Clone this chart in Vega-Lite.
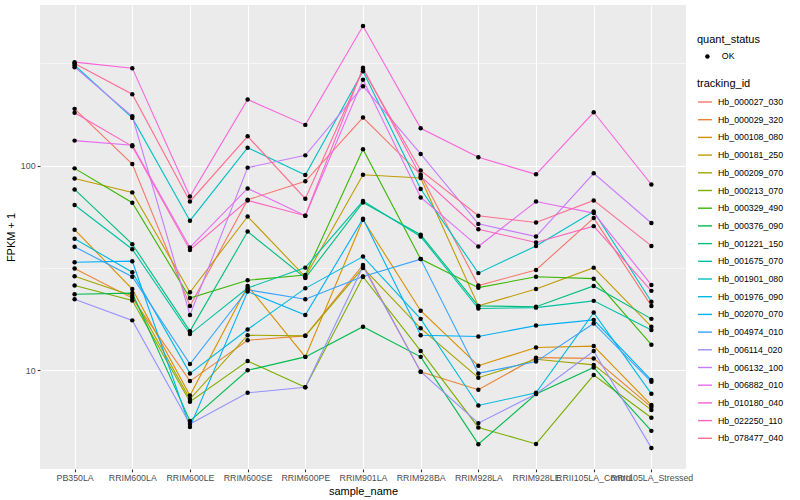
{
"$schema": "https://vega.github.io/schema/vega-lite/v6.json",
"width": 646, "height": 464,
"autosize": {"type": "none"},
"padding": {"left": 40, "top": 5, "right": 114, "bottom": 31},
"background": "white",
"config": {
  "font": "Liberation Sans",
  "view": {"fill": "#EBEBEB", "stroke": null},
  "axis": {"labelFont": "Liberation Sans", "titleFont": "Liberation Sans", "labelFontSize": 8.8, "labelColor": "#4D4D4D", "tickColor": "#333333", "tickSize": 2.75, "tickWidth": 1.1, "domain": false, "gridColor": "white", "titleFontSize": 11, "titleFontWeight": "normal", "titleColor": "black", "labelPadding": 2.2},
  "legend": {"labelFont": "Liberation Sans", "titleFont": "Liberation Sans", "labelFontSize": 8.8, "labelColor": "black", "titleFontSize": 11, "titleFontWeight": "normal", "titleColor": "black"}
},
"data": {"values": [
{"tracking_id":"Hb_000027_030","sample_name":"PB350LA","fpkm":189.6,"quant_status":"OK"},
{"tracking_id":"Hb_000027_030","sample_name":"RRIM600LA","fpkm":101.9,"quant_status":"OK"},
{"tracking_id":"Hb_000027_030","sample_name":"RRIM600LE","fpkm":20.6,"quant_status":"OK"},
{"tracking_id":"Hb_000027_030","sample_name":"RRIM600SE","fpkm":68.1,"quant_status":"OK"},
{"tracking_id":"Hb_000027_030","sample_name":"RRIM600PE","fpkm":83.8,"quant_status":"OK"},
{"tracking_id":"Hb_000027_030","sample_name":"RRIM901LA","fpkm":171.9,"quant_status":"OK"},
{"tracking_id":"Hb_000027_030","sample_name":"RRIM928BA","fpkm":90.3,"quant_status":"OK"},
{"tracking_id":"Hb_000027_030","sample_name":"RRIM928LA","fpkm":25.9,"quant_status":"OK"},
{"tracking_id":"Hb_000027_030","sample_name":"RRIM928LE","fpkm":30.9,"quant_status":"OK"},
{"tracking_id":"Hb_000027_030","sample_name":"RRII105LA_Control","fpkm":55.4,"quant_status":"OK"},
{"tracking_id":"Hb_000027_030","sample_name":"RRII105LA_Stressed","fpkm":20.6,"quant_status":"OK"},
{"tracking_id":"Hb_000029_320","sample_name":"PB350LA","fpkm":31.4,"quant_status":"OK"},
{"tracking_id":"Hb_000029_320","sample_name":"RRIM600LA","fpkm":22.5,"quant_status":"OK"},
{"tracking_id":"Hb_000029_320","sample_name":"RRIM600LE","fpkm":8.83,"quant_status":"OK"},
{"tracking_id":"Hb_000029_320","sample_name":"RRIM600SE","fpkm":14.0,"quant_status":"OK"},
{"tracking_id":"Hb_000029_320","sample_name":"RRIM600PE","fpkm":14.7,"quant_status":"OK"},
{"tracking_id":"Hb_000029_320","sample_name":"RRIM901LA","fpkm":32.7,"quant_status":"OK"},
{"tracking_id":"Hb_000029_320","sample_name":"RRIM928BA","fpkm":9.81,"quant_status":"OK"},
{"tracking_id":"Hb_000029_320","sample_name":"RRIM928LA","fpkm":8.01,"quant_status":"OK"},
{"tracking_id":"Hb_000029_320","sample_name":"RRIM928LE","fpkm":11.5,"quant_status":"OK"},
{"tracking_id":"Hb_000029_320","sample_name":"RRII105LA_Control","fpkm":11.4,"quant_status":"OK"},
{"tracking_id":"Hb_000029_320","sample_name":"RRII105LA_Stressed","fpkm":6.59,"quant_status":"OK"},
{"tracking_id":"Hb_000108_080","sample_name":"PB350LA","fpkm":48.6,"quant_status":"OK"},
{"tracking_id":"Hb_000108_080","sample_name":"RRIM600LA","fpkm":24.9,"quant_status":"OK"},
{"tracking_id":"Hb_000108_080","sample_name":"RRIM600LE","fpkm":7.5,"quant_status":"OK"},
{"tracking_id":"Hb_000108_080","sample_name":"RRIM600SE","fpkm":25.8,"quant_status":"OK"},
{"tracking_id":"Hb_000108_080","sample_name":"RRIM600PE","fpkm":11.6,"quant_status":"OK"},
{"tracking_id":"Hb_000108_080","sample_name":"RRIM901LA","fpkm":54.4,"quant_status":"OK"},
{"tracking_id":"Hb_000108_080","sample_name":"RRIM928BA","fpkm":19.5,"quant_status":"OK"},
{"tracking_id":"Hb_000108_080","sample_name":"RRIM928LA","fpkm":10.5,"quant_status":"OK"},
{"tracking_id":"Hb_000108_080","sample_name":"RRIM928LE","fpkm":12.9,"quant_status":"OK"},
{"tracking_id":"Hb_000108_080","sample_name":"RRII105LA_Control","fpkm":13.1,"quant_status":"OK"},
{"tracking_id":"Hb_000108_080","sample_name":"RRII105LA_Stressed","fpkm":6.74,"quant_status":"OK"},
{"tracking_id":"Hb_000181_250","sample_name":"PB350LA","fpkm":86.6,"quant_status":"OK"},
{"tracking_id":"Hb_000181_250","sample_name":"RRIM600LA","fpkm":74.0,"quant_status":"OK"},
{"tracking_id":"Hb_000181_250","sample_name":"RRIM600LE","fpkm":24.0,"quant_status":"OK"},
{"tracking_id":"Hb_000181_250","sample_name":"RRIM600SE","fpkm":56.4,"quant_status":"OK"},
{"tracking_id":"Hb_000181_250","sample_name":"RRIM600PE","fpkm":28.6,"quant_status":"OK"},
{"tracking_id":"Hb_000181_250","sample_name":"RRIM901LA","fpkm":90.3,"quant_status":"OK"},
{"tracking_id":"Hb_000181_250","sample_name":"RRIM928BA","fpkm":87.0,"quant_status":"OK"},
{"tracking_id":"Hb_000181_250","sample_name":"RRIM928LA","fpkm":20.6,"quant_status":"OK"},
{"tracking_id":"Hb_000181_250","sample_name":"RRIM928LE","fpkm":24.9,"quant_status":"OK"},
{"tracking_id":"Hb_000181_250","sample_name":"RRII105LA_Control","fpkm":31.7,"quant_status":"OK"},
{"tracking_id":"Hb_000181_250","sample_name":"RRII105LA_Stressed","fpkm":16.3,"quant_status":"OK"},
{"tracking_id":"Hb_000209_070","sample_name":"PB350LA","fpkm":28.8,"quant_status":"OK"},
{"tracking_id":"Hb_000209_070","sample_name":"RRIM600LA","fpkm":23.1,"quant_status":"OK"},
{"tracking_id":"Hb_000209_070","sample_name":"RRIM600LE","fpkm":7.21,"quant_status":"OK"},
{"tracking_id":"Hb_000209_070","sample_name":"RRIM600SE","fpkm":14.8,"quant_status":"OK"},
{"tracking_id":"Hb_000209_070","sample_name":"RRIM600PE","fpkm":14.7,"quant_status":"OK"},
{"tracking_id":"Hb_000209_070","sample_name":"RRIM901LA","fpkm":31.6,"quant_status":"OK"},
{"tracking_id":"Hb_000209_070","sample_name":"RRIM928BA","fpkm":16.0,"quant_status":"OK"},
{"tracking_id":"Hb_000209_070","sample_name":"RRIM928LA","fpkm":9.17,"quant_status":"OK"},
{"tracking_id":"Hb_000209_070","sample_name":"RRIM928LE","fpkm":11.3,"quant_status":"OK"},
{"tracking_id":"Hb_000209_070","sample_name":"RRII105LA_Control","fpkm":10.6,"quant_status":"OK"},
{"tracking_id":"Hb_000209_070","sample_name":"RRII105LA_Stressed","fpkm":6.37,"quant_status":"OK"},
{"tracking_id":"Hb_000213_070","sample_name":"PB350LA","fpkm":25.9,"quant_status":"OK"},
{"tracking_id":"Hb_000213_070","sample_name":"RRIM600LA","fpkm":21.9,"quant_status":"OK"},
{"tracking_id":"Hb_000213_070","sample_name":"RRIM600LE","fpkm":7.0,"quant_status":"OK"},
{"tracking_id":"Hb_000213_070","sample_name":"RRIM600SE","fpkm":11.07,"quant_status":"OK"},
{"tracking_id":"Hb_000213_070","sample_name":"RRIM600PE","fpkm":8.23,"quant_status":"OK"},
{"tracking_id":"Hb_000213_070","sample_name":"RRIM901LA","fpkm":28.6,"quant_status":"OK"},
{"tracking_id":"Hb_000213_070","sample_name":"RRIM928BA","fpkm":12.4,"quant_status":"OK"},
{"tracking_id":"Hb_000213_070","sample_name":"RRIM928LA","fpkm":5.24,"quant_status":"OK"},
{"tracking_id":"Hb_000213_070","sample_name":"RRIM928LE","fpkm":4.35,"quant_status":"OK"},
{"tracking_id":"Hb_000213_070","sample_name":"RRII105LA_Control","fpkm":9.45,"quant_status":"OK"},
{"tracking_id":"Hb_000213_070","sample_name":"RRII105LA_Stressed","fpkm":5.84,"quant_status":"OK"},
{"tracking_id":"Hb_000329_490","sample_name":"PB350LA","fpkm":97.0,"quant_status":"OK"},
{"tracking_id":"Hb_000329_490","sample_name":"RRIM600LA","fpkm":65.9,"quant_status":"OK"},
{"tracking_id":"Hb_000329_490","sample_name":"RRIM600LE","fpkm":22.5,"quant_status":"OK"},
{"tracking_id":"Hb_000329_490","sample_name":"RRIM600SE","fpkm":27.5,"quant_status":"OK"},
{"tracking_id":"Hb_000329_490","sample_name":"RRIM600PE","fpkm":29.2,"quant_status":"OK"},
{"tracking_id":"Hb_000329_490","sample_name":"RRIM901LA","fpkm":120.2,"quant_status":"OK"},
{"tracking_id":"Hb_000329_490","sample_name":"RRIM928BA","fpkm":34.9,"quant_status":"OK"},
{"tracking_id":"Hb_000329_490","sample_name":"RRIM928LA","fpkm":25.3,"quant_status":"OK"},
{"tracking_id":"Hb_000329_490","sample_name":"RRIM928LE","fpkm":28.6,"quant_status":"OK"},
{"tracking_id":"Hb_000329_490","sample_name":"RRII105LA_Control","fpkm":28.0,"quant_status":"OK"},
{"tracking_id":"Hb_000329_490","sample_name":"RRII105LA_Stressed","fpkm":13.3,"quant_status":"OK"},
{"tracking_id":"Hb_000376_090","sample_name":"PB350LA","fpkm":23.5,"quant_status":"OK"},
{"tracking_id":"Hb_000376_090","sample_name":"RRIM600LA","fpkm":23.8,"quant_status":"OK"},
{"tracking_id":"Hb_000376_090","sample_name":"RRIM600LE","fpkm":5.64,"quant_status":"OK"},
{"tracking_id":"Hb_000376_090","sample_name":"RRIM600SE","fpkm":9.97,"quant_status":"OK"},
{"tracking_id":"Hb_000376_090","sample_name":"RRIM600PE","fpkm":11.6,"quant_status":"OK"},
{"tracking_id":"Hb_000376_090","sample_name":"RRIM901LA","fpkm":16.3,"quant_status":"OK"},
{"tracking_id":"Hb_000376_090","sample_name":"RRIM928BA","fpkm":11.6,"quant_status":"OK"},
{"tracking_id":"Hb_000376_090","sample_name":"RRIM928LA","fpkm":4.34,"quant_status":"OK"},
{"tracking_id":"Hb_000376_090","sample_name":"RRIM928LE","fpkm":7.63,"quant_status":"OK"},
{"tracking_id":"Hb_000376_090","sample_name":"RRII105LA_Control","fpkm":10.3,"quant_status":"OK"},
{"tracking_id":"Hb_000376_090","sample_name":"RRII105LA_Stressed","fpkm":5.04,"quant_status":"OK"},
{"tracking_id":"Hb_001221_150","sample_name":"PB350LA","fpkm":76.5,"quant_status":"OK"},
{"tracking_id":"Hb_001221_150","sample_name":"RRIM600LA","fpkm":41.3,"quant_status":"OK"},
{"tracking_id":"Hb_001221_150","sample_name":"RRIM600LE","fpkm":15.5,"quant_status":"OK"},
{"tracking_id":"Hb_001221_150","sample_name":"RRIM600SE","fpkm":47.6,"quant_status":"OK"},
{"tracking_id":"Hb_001221_150","sample_name":"RRIM600PE","fpkm":28.2,"quant_status":"OK"},
{"tracking_id":"Hb_001221_150","sample_name":"RRIM901LA","fpkm":66.1,"quant_status":"OK"},
{"tracking_id":"Hb_001221_150","sample_name":"RRIM928BA","fpkm":45.9,"quant_status":"OK"},
{"tracking_id":"Hb_001221_150","sample_name":"RRIM928LA","fpkm":20.6,"quant_status":"OK"},
{"tracking_id":"Hb_001221_150","sample_name":"RRIM928LE","fpkm":20.4,"quant_status":"OK"},
{"tracking_id":"Hb_001221_150","sample_name":"RRII105LA_Control","fpkm":25.8,"quant_status":"OK"},
{"tracking_id":"Hb_001221_150","sample_name":"RRII105LA_Stressed","fpkm":17.8,"quant_status":"OK"},
{"tracking_id":"Hb_001675_070","sample_name":"PB350LA","fpkm":64.2,"quant_status":"OK"},
{"tracking_id":"Hb_001675_070","sample_name":"RRIM600LA","fpkm":39.0,"quant_status":"OK"},
{"tracking_id":"Hb_001675_070","sample_name":"RRIM600LE","fpkm":15.0,"quant_status":"OK"},
{"tracking_id":"Hb_001675_070","sample_name":"RRIM600SE","fpkm":25.2,"quant_status":"OK"},
{"tracking_id":"Hb_001675_070","sample_name":"RRIM600PE","fpkm":31.7,"quant_status":"OK"},
{"tracking_id":"Hb_001675_070","sample_name":"RRIM901LA","fpkm":67.1,"quant_status":"OK"},
{"tracking_id":"Hb_001675_070","sample_name":"RRIM928BA","fpkm":45.0,"quant_status":"OK"},
{"tracking_id":"Hb_001675_070","sample_name":"RRIM928LA","fpkm":20.0,"quant_status":"OK"},
{"tracking_id":"Hb_001675_070","sample_name":"RRIM928LE","fpkm":20.2,"quant_status":"OK"},
{"tracking_id":"Hb_001675_070","sample_name":"RRII105LA_Control","fpkm":21.8,"quant_status":"OK"},
{"tracking_id":"Hb_001675_070","sample_name":"RRII105LA_Stressed","fpkm":15.7,"quant_status":"OK"},
{"tracking_id":"Hb_001901_080","sample_name":"PB350LA","fpkm":310,"quant_status":"OK"},
{"tracking_id":"Hb_001901_080","sample_name":"RRIM600LA","fpkm":171.3,"quant_status":"OK"},
{"tracking_id":"Hb_001901_080","sample_name":"RRIM600LE","fpkm":53.8,"quant_status":"OK"},
{"tracking_id":"Hb_001901_080","sample_name":"RRIM600SE","fpkm":122.5,"quant_status":"OK"},
{"tracking_id":"Hb_001901_080","sample_name":"RRIM600PE","fpkm":90.0,"quant_status":"OK"},
{"tracking_id":"Hb_001901_080","sample_name":"RRIM901LA","fpkm":290,"quant_status":"OK"},
{"tracking_id":"Hb_001901_080","sample_name":"RRIM928BA","fpkm":76.9,"quant_status":"OK"},
{"tracking_id":"Hb_001901_080","sample_name":"RRIM928LA","fpkm":29.8,"quant_status":"OK"},
{"tracking_id":"Hb_001901_080","sample_name":"RRIM928LE","fpkm":40.5,"quant_status":"OK"},
{"tracking_id":"Hb_001901_080","sample_name":"RRII105LA_Control","fpkm":59.7,"quant_status":"OK"},
{"tracking_id":"Hb_001901_080","sample_name":"RRII105LA_Stressed","fpkm":21.6,"quant_status":"OK"},
{"tracking_id":"Hb_001976_090","sample_name":"PB350LA","fpkm":43.9,"quant_status":"OK"},
{"tracking_id":"Hb_001976_090","sample_name":"RRIM600LA","fpkm":30.1,"quant_status":"OK"},
{"tracking_id":"Hb_001976_090","sample_name":"RRIM600LE","fpkm":9.63,"quant_status":"OK"},
{"tracking_id":"Hb_001976_090","sample_name":"RRIM600SE","fpkm":15.8,"quant_status":"OK"},
{"tracking_id":"Hb_001976_090","sample_name":"RRIM600PE","fpkm":25.1,"quant_status":"OK"},
{"tracking_id":"Hb_001976_090","sample_name":"RRIM901LA","fpkm":35.9,"quant_status":"OK"},
{"tracking_id":"Hb_001976_090","sample_name":"RRIM928BA","fpkm":17.8,"quant_status":"OK"},
{"tracking_id":"Hb_001976_090","sample_name":"RRIM928LA","fpkm":6.71,"quant_status":"OK"},
{"tracking_id":"Hb_001976_090","sample_name":"RRIM928LE","fpkm":7.74,"quant_status":"OK"},
{"tracking_id":"Hb_001976_090","sample_name":"RRII105LA_Control","fpkm":19.1,"quant_status":"OK"},
{"tracking_id":"Hb_001976_090","sample_name":"RRII105LA_Stressed","fpkm":7.65,"quant_status":"OK"},
{"tracking_id":"Hb_002070_070","sample_name":"PB350LA","fpkm":33.7,"quant_status":"OK"},
{"tracking_id":"Hb_002070_070","sample_name":"RRIM600LA","fpkm":34.1,"quant_status":"OK"},
{"tracking_id":"Hb_002070_070","sample_name":"RRIM600LE","fpkm":5.27,"quant_status":"OK"},
{"tracking_id":"Hb_002070_070","sample_name":"RRIM600SE","fpkm":24.2,"quant_status":"OK"},
{"tracking_id":"Hb_002070_070","sample_name":"RRIM600PE","fpkm":18.6,"quant_status":"OK"},
{"tracking_id":"Hb_002070_070","sample_name":"RRIM901LA","fpkm":55.0,"quant_status":"OK"},
{"tracking_id":"Hb_002070_070","sample_name":"RRIM928BA","fpkm":14.8,"quant_status":"OK"},
{"tracking_id":"Hb_002070_070","sample_name":"RRIM928LA","fpkm":14.6,"quant_status":"OK"},
{"tracking_id":"Hb_002070_070","sample_name":"RRIM928LE","fpkm":16.5,"quant_status":"OK"},
{"tracking_id":"Hb_002070_070","sample_name":"RRII105LA_Control","fpkm":17.6,"quant_status":"OK"},
{"tracking_id":"Hb_002070_070","sample_name":"RRII105LA_Stressed","fpkm":8.93,"quant_status":"OK"},
{"tracking_id":"Hb_004974_010","sample_name":"PB350LA","fpkm":40.1,"quant_status":"OK"},
{"tracking_id":"Hb_004974_010","sample_name":"RRIM600LA","fpkm":28.6,"quant_status":"OK"},
{"tracking_id":"Hb_004974_010","sample_name":"RRIM600LE","fpkm":10.7,"quant_status":"OK"},
{"tracking_id":"Hb_004974_010","sample_name":"RRIM600SE","fpkm":24.7,"quant_status":"OK"},
{"tracking_id":"Hb_004974_010","sample_name":"RRIM600PE","fpkm":22.2,"quant_status":"OK"},
{"tracking_id":"Hb_004974_010","sample_name":"RRIM901LA","fpkm":28.7,"quant_status":"OK"},
{"tracking_id":"Hb_004974_010","sample_name":"RRIM928BA","fpkm":34.9,"quant_status":"OK"},
{"tracking_id":"Hb_004974_010","sample_name":"RRIM928LA","fpkm":9.63,"quant_status":"OK"},
{"tracking_id":"Hb_004974_010","sample_name":"RRIM928LE","fpkm":11.0,"quant_status":"OK"},
{"tracking_id":"Hb_004974_010","sample_name":"RRII105LA_Control","fpkm":16.9,"quant_status":"OK"},
{"tracking_id":"Hb_004974_010","sample_name":"RRII105LA_Stressed","fpkm":8.76,"quant_status":"OK"},
{"tracking_id":"Hb_006114_020","sample_name":"PB350LA","fpkm":22.2,"quant_status":"OK"},
{"tracking_id":"Hb_006114_020","sample_name":"RRIM600LA","fpkm":17.5,"quant_status":"OK"},
{"tracking_id":"Hb_006114_020","sample_name":"RRIM600LE","fpkm":5.44,"quant_status":"OK"},
{"tracking_id":"Hb_006114_020","sample_name":"RRIM600SE","fpkm":7.74,"quant_status":"OK"},
{"tracking_id":"Hb_006114_020","sample_name":"RRIM600PE","fpkm":8.23,"quant_status":"OK"},
{"tracking_id":"Hb_006114_020","sample_name":"RRIM901LA","fpkm":32.1,"quant_status":"OK"},
{"tracking_id":"Hb_006114_020","sample_name":"RRIM928BA","fpkm":9.81,"quant_status":"OK"},
{"tracking_id":"Hb_006114_020","sample_name":"RRIM928LA","fpkm":5.50,"quant_status":"OK"},
{"tracking_id":"Hb_006114_020","sample_name":"RRIM928LE","fpkm":7.63,"quant_status":"OK"},
{"tracking_id":"Hb_006114_020","sample_name":"RRII105LA_Control","fpkm":12.4,"quant_status":"OK"},
{"tracking_id":"Hb_006114_020","sample_name":"RRII105LA_Stressed","fpkm":4.16,"quant_status":"OK"},
{"tracking_id":"Hb_006132_100","sample_name":"PB350LA","fpkm":303.3,"quant_status":"OK"},
{"tracking_id":"Hb_006132_100","sample_name":"RRIM600LA","fpkm":174.5,"quant_status":"OK"},
{"tracking_id":"Hb_006132_100","sample_name":"RRIM600LE","fpkm":18.6,"quant_status":"OK"},
{"tracking_id":"Hb_006132_100","sample_name":"RRIM600SE","fpkm":97.8,"quant_status":"OK"},
{"tracking_id":"Hb_006132_100","sample_name":"RRIM600PE","fpkm":112.3,"quant_status":"OK"},
{"tracking_id":"Hb_006132_100","sample_name":"RRIM901LA","fpkm":244.7,"quant_status":"OK"},
{"tracking_id":"Hb_006132_100","sample_name":"RRIM928BA","fpkm":114.1,"quant_status":"OK"},
{"tracking_id":"Hb_006132_100","sample_name":"RRIM928LA","fpkm":51.9,"quant_status":"OK"},
{"tracking_id":"Hb_006132_100","sample_name":"RRIM928LE","fpkm":45.0,"quant_status":"OK"},
{"tracking_id":"Hb_006132_100","sample_name":"RRII105LA_Control","fpkm":91.7,"quant_status":"OK"},
{"tracking_id":"Hb_006132_100","sample_name":"RRII105LA_Stressed","fpkm":52.4,"quant_status":"OK"},
{"tracking_id":"Hb_006882_010","sample_name":"PB350LA","fpkm":132.6,"quant_status":"OK"},
{"tracking_id":"Hb_006882_010","sample_name":"RRIM600LA","fpkm":125.8,"quant_status":"OK"},
{"tracking_id":"Hb_006882_010","sample_name":"RRIM600LE","fpkm":39.8,"quant_status":"OK"},
{"tracking_id":"Hb_006882_010","sample_name":"RRIM600SE","fpkm":77.4,"quant_status":"OK"},
{"tracking_id":"Hb_006882_010","sample_name":"RRIM600PE","fpkm":56.9,"quant_status":"OK"},
{"tracking_id":"Hb_006882_010","sample_name":"RRIM901LA","fpkm":263.1,"quant_status":"OK"},
{"tracking_id":"Hb_006882_010","sample_name":"RRIM928BA","fpkm":69.9,"quant_status":"OK"},
{"tracking_id":"Hb_006882_010","sample_name":"RRIM928LA","fpkm":40.2,"quant_status":"OK"},
{"tracking_id":"Hb_006882_010","sample_name":"RRIM928LE","fpkm":66.8,"quant_status":"OK"},
{"tracking_id":"Hb_006882_010","sample_name":"RRII105LA_Control","fpkm":58.6,"quant_status":"OK"},
{"tracking_id":"Hb_006882_010","sample_name":"RRII105LA_Stressed","fpkm":26.1,"quant_status":"OK"},
{"tracking_id":"Hb_010180_040","sample_name":"PB350LA","fpkm":320.9,"quant_status":"OK"},
{"tracking_id":"Hb_010180_040","sample_name":"RRIM600LA","fpkm":300,"quant_status":"OK"},
{"tracking_id":"Hb_010180_040","sample_name":"RRIM600LE","fpkm":70.7,"quant_status":"OK"},
{"tracking_id":"Hb_010180_040","sample_name":"RRIM600SE","fpkm":210.6,"quant_status":"OK"},
{"tracking_id":"Hb_010180_040","sample_name":"RRIM600PE","fpkm":158.3,"quant_status":"OK"},
{"tracking_id":"Hb_010180_040","sample_name":"RRIM901LA","fpkm":481.8,"quant_status":"OK"},
{"tracking_id":"Hb_010180_040","sample_name":"RRIM928BA","fpkm":152.3,"quant_status":"OK"},
{"tracking_id":"Hb_010180_040","sample_name":"RRIM928LA","fpkm":109.8,"quant_status":"OK"},
{"tracking_id":"Hb_010180_040","sample_name":"RRIM928LE","fpkm":90.7,"quant_status":"OK"},
{"tracking_id":"Hb_010180_040","sample_name":"RRII105LA_Control","fpkm":182.5,"quant_status":"OK"},
{"tracking_id":"Hb_010180_040","sample_name":"RRII105LA_Stressed","fpkm":80.9,"quant_status":"OK"},
{"tracking_id":"Hb_022250_110","sample_name":"PB350LA","fpkm":181.3,"quant_status":"OK"},
{"tracking_id":"Hb_022250_110","sample_name":"RRIM600LA","fpkm":124.3,"quant_status":"OK"},
{"tracking_id":"Hb_022250_110","sample_name":"RRIM600LE","fpkm":38.7,"quant_status":"OK"},
{"tracking_id":"Hb_022250_110","sample_name":"RRIM600SE","fpkm":67.6,"quant_status":"OK"},
{"tracking_id":"Hb_022250_110","sample_name":"RRIM600PE","fpkm":56.9,"quant_status":"OK"},
{"tracking_id":"Hb_022250_110","sample_name":"RRIM901LA","fpkm":301.2,"quant_status":"OK"},
{"tracking_id":"Hb_022250_110","sample_name":"RRIM928BA","fpkm":88.6,"quant_status":"OK"},
{"tracking_id":"Hb_022250_110","sample_name":"RRIM928LA","fpkm":48.9,"quant_status":"OK"},
{"tracking_id":"Hb_022250_110","sample_name":"RRIM928LE","fpkm":42.1,"quant_status":"OK"},
{"tracking_id":"Hb_022250_110","sample_name":"RRII105LA_Control","fpkm":50.6,"quant_status":"OK"},
{"tracking_id":"Hb_022250_110","sample_name":"RRII105LA_Stressed","fpkm":24.4,"quant_status":"OK"},
{"tracking_id":"Hb_078477_040","sample_name":"PB350LA","fpkm":316,"quant_status":"OK"},
{"tracking_id":"Hb_078477_040","sample_name":"RRIM600LA","fpkm":223.6,"quant_status":"OK"},
{"tracking_id":"Hb_078477_040","sample_name":"RRIM600LE","fpkm":66.8,"quant_status":"OK"},
{"tracking_id":"Hb_078477_040","sample_name":"RRIM600SE","fpkm":139.2,"quant_status":"OK"},
{"tracking_id":"Hb_078477_040","sample_name":"RRIM600PE","fpkm":68.9,"quant_status":"OK"},
{"tracking_id":"Hb_078477_040","sample_name":"RRIM901LA","fpkm":295.5,"quant_status":"OK"},
{"tracking_id":"Hb_078477_040","sample_name":"RRIM928BA","fpkm":94.8,"quant_status":"OK"},
{"tracking_id":"Hb_078477_040","sample_name":"RRIM928LA","fpkm":56.9,"quant_status":"OK"},
{"tracking_id":"Hb_078477_040","sample_name":"RRIM928LE","fpkm":52.7,"quant_status":"OK"},
{"tracking_id":"Hb_078477_040","sample_name":"RRII105LA_Control","fpkm":67.6,"quant_status":"OK"},
{"tracking_id":"Hb_078477_040","sample_name":"RRII105LA_Stressed","fpkm":40.5,"quant_status":"OK"}
]},
"encoding": {
  "x": {"field": "sample_name", "type": "nominal",
        "sort": ["PB350LA","RRIM600LA","RRIM600LE","RRIM600SE","RRIM600PE","RRIM901LA","RRIM928BA","RRIM928LA","RRIM928LE","RRII105LA_Control","RRII105LA_Stressed"],
        "scale": {"type": "point", "padding": 0.6},
        "axis": {"title": "sample_name", "labelAngle": 0, "grid": true, "gridWidth": 1.1, "labelOverlap": false, "labelBound": false, "titlePadding": 3}}
},
"layer": [
  {"mark": {"type": "line", "strokeWidth": 1.1},
   "encoding": {
     "y": {"field": "fpkm", "type": "quantitative", "scale": {"type": "log", "domain": [3.28, 611], "nice": false},
           "axis": {"title": "FPKM + 1", "orient": "left", "values": [10, 100], "grid": true, "gridWidth": 1.1, "titlePadding": 4}},
     "color": {"field": "tracking_id", "type": "nominal",
       "scale": {"domain": ["Hb_000027_030","Hb_000029_320","Hb_000108_080","Hb_000181_250","Hb_000209_070","Hb_000213_070","Hb_000329_490","Hb_000376_090","Hb_001221_150","Hb_001675_070","Hb_001901_080","Hb_001976_090","Hb_002070_070","Hb_004974_010","Hb_006114_020","Hb_006132_100","Hb_006882_010","Hb_010180_040","Hb_022250_110","Hb_078477_040"],
                 "range": ["#F8766D","#EA8331","#D89000","#C09B00","#A3A500","#7CAE00","#39B600","#00BB4E","#00BF7D","#00C1A3","#00BFC4","#00BAE0","#00B0F6","#35A2FF","#9590FF","#C77CFF","#E76BF3","#FA62DB","#FF62BC","#FF6C91"]},
       "legend": {"title": "tracking_id", "orient": "none", "legendX": 657, "legendY": 73, "symbolType": "stroke", "symbolSize": 196, "symbolStrokeWidth": 1.4, "rowPadding": 4.7, "titlePadding": 5, "labelOffset": 5}}
   }},
  {"mark": {"type": "point", "filled": true, "size": 20, "opacity": 1, "color": "black"},
   "encoding": {
     "y": {"field": "fpkm", "type": "quantitative", "scale": {"type": "log", "domain": [3.28, 611], "nice": false},
           "axis": {"title": null, "orient": "left", "values": [31.62, 316.2], "grid": true, "gridWidth": 0.55, "labels": false, "ticks": false}},
     "shape": {"field": "quant_status", "type": "nominal", "scale": {"range": ["circle"]},
       "legend": {"title": "quant_status", "orient": "none", "legendX": 657, "legendY": 29, "symbolSize": 20, "symbolFillColor": "black", "symbolStrokeColor": "black", "titlePadding": 7, "symbolOffset": 6, "labelOffset": 10}}
   }}
],
"resolve": {"axis": {"y": "independent"}}
}
